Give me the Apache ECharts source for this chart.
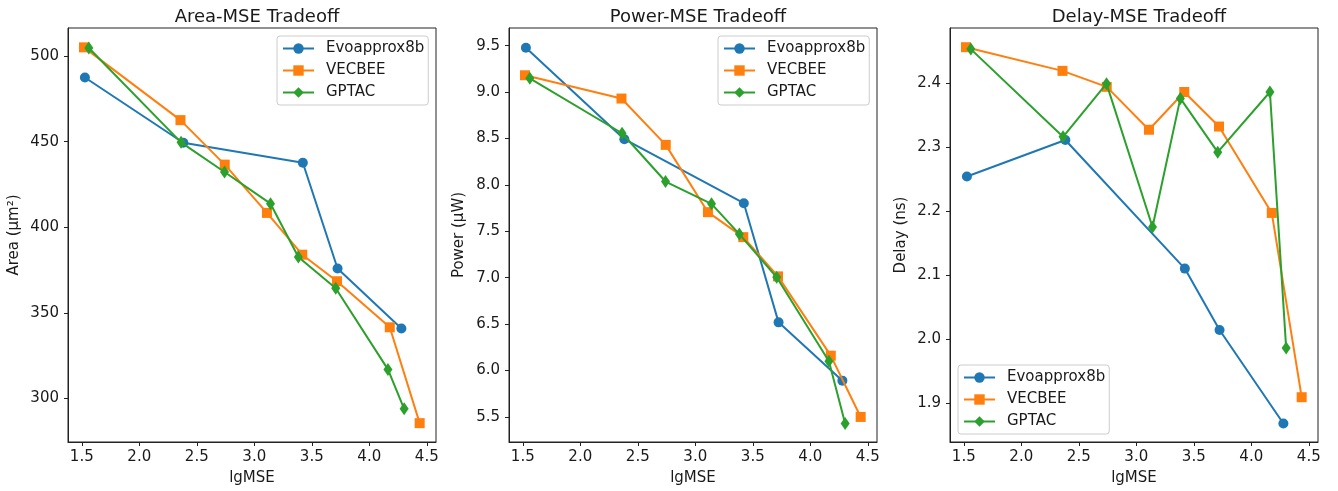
<!DOCTYPE html>
<html>
<head>
<meta charset="utf-8">
<title>MSE Tradeoff</title>
<script src="https://cdn.jsdelivr.net/npm/echarts@6/dist/echarts.min.js"></script>
<style>
  html, body { margin: 0; padding: 0; background: #fff; }
  #chart { width: 1338px; height: 491px; }
</style>
</head>
<body>
<div id="chart"></div>
<script>
// lgMSE of each design (x values)
let lgmseEvo = [1.527, 2.383, 3.422, 3.724, 4.279];
let lgmseVec = [1.519, 2.358, 2.743, 3.110, 3.417, 3.719, 4.178, 4.438];
let lgmseGp = [1.561, 2.363, 2.741, 3.141, 3.383, 3.708, 4.162, 4.303];

// Area (um^2)
let areaEvo = [487.5, 449.4, 437.7, 375.9, 340.9];
let areaVec = [505.1, 462.6, 436.6, 408.4, 384.0, 368.5, 341.6, 285.6];
let areaGp = [504.7, 449.6, 432.3, 413.8, 382.7, 364.4, 317.0, 294.0];

// Power (uW)
let powerEvo = [9.478, 8.492, 7.803, 6.519, 5.891];
let powerVec = [9.181, 8.930, 8.431, 7.706, 7.437, 7.014, 6.160, 5.500];
let powerGp = [9.148, 8.556, 8.036, 7.796, 7.470, 7.004, 6.099, 5.428];

// Delay (ns)
let delayEvo = [2.254, 2.311, 2.110, 2.014, 1.868];
let delayVec = [2.456, 2.419, 2.394, 2.327, 2.386, 2.332, 2.197, 1.909];
let delayGp = [2.453, 2.316, 2.399, 2.175, 2.376, 2.292, 2.386, 1.986];

// Tick labels
let xTicks = [1.5, 2.0, 2.5, 3.0, 3.5, 4.0, 4.5];
let areaTicks = [300, 350, 400, 450, 500];
let powerTicks = [5.5, 6.0, 6.5, 7.0, 7.5, 8.0, 8.5, 9.0, 9.5];
let delayTicks = [1.9, 2.0, 2.1, 2.2, 2.3, 2.4];

let names = ['Evoapprox8b', 'VECBEE', 'GPTAC'];
let titles = ['Area-MSE Tradeoff', 'Power-MSE Tradeoff', 'Delay-MSE Tradeoff'];
let yNames = ['Area (µm²)', 'Power (µW)', 'Delay (ns)'];

const FONT = 'DejaVu Sans';
const TXT = '#1a1a1a';
const FS = 15;
const colors = ['#1f77b4', '#ff7f0e', '#2ca02c'];
const diamond = 'path://M4,0L8,6L4,12L0,6Z';
const symbols = ['circle', 'rect', diamond];
const symbolSizes = [10, 10, [9, 13]];

const gridLefts = [68, 509, 950];
const gridW = 368;

const zip = (xs, ys) => xs.map((x, i) => [x, ys[i]]);

let panels = [
    [zip(lgmseEvo, areaEvo), zip(lgmseVec, areaVec), zip(lgmseGp, areaGp)],
    [zip(lgmseEvo, powerEvo), zip(lgmseVec, powerVec), zip(lgmseGp, powerGp)],
    [zip(lgmseEvo, delayEvo), zip(lgmseVec, delayVec), zip(lgmseGp, delayGp)]
];

let yRanges = [[274.6, 516.4], [5.23, 9.69], [1.839, 2.486]];
let yTickSets = [areaTicks, powerTicks, delayTicks];
let yFmt = [v => v.toFixed(0), v => v.toFixed(1), v => v.toFixed(1)];
let yNameGaps = [46, 42, 41];

let grids = [], xAxes = [], yAxes = [], series = [], titleOpts = [];

for (let p = 0; p < 3; p++) {
    grids.push({
        left: gridLefts[p], top: 28, width: gridW, height: 414,
        show: true, borderColor: '#222', borderWidth: 1,
        backgroundColor: 'transparent'
    });
    titleOpts.push({
        text: titles[p],
        left: gridLefts[p] + gridW / 2,
        top: 3,
        textAlign: 'center',
        textStyle: { fontFamily: FONT, fontSize: 18, fontWeight: 'normal', color: TXT }
    });
    xAxes.push({
        type: 'value', gridIndex: p,
        min: 1.38, max: 4.58,
        name: 'lgMSE', nameLocation: 'middle', nameGap: 29,
        nameTextStyle: { fontFamily: FONT, fontSize: FS, color: TXT },
        axisLine: { onZero: false, lineStyle: { color: '#222', width: 1 } },
        axisTick: { show: true, length: 4, customValues: xTicks, lineStyle: { color: '#222' } },
        axisLabel: {
            customValues: xTicks, margin: 8,
            fontFamily: FONT, fontSize: FS, color: TXT,
            formatter: v => Number(v).toFixed(1)
        },
        splitLine: { show: false }
    });
    yAxes.push({
        type: 'value', gridIndex: p,
        min: yRanges[p][0], max: yRanges[p][1],
        name: yNames[p], nameLocation: 'middle', nameGap: yNameGaps[p],
        nameTextStyle: { fontFamily: FONT, fontSize: FS, color: TXT },
        axisLine: { show: true, onZero: false, lineStyle: { color: '#222', width: 1 } },
        axisTick: { show: true, length: 4, customValues: yTickSets[p], lineStyle: { color: '#222' } },
        axisLabel: {
            customValues: yTickSets[p], margin: 9,
            fontFamily: FONT, fontSize: FS, color: TXT,
            formatter: v => yFmt[p](Number(v))
        },
        splitLine: { show: false }
    });
    for (let s = 0; s < 3; s++) {
        series.push({
            type: 'line',
            name: names[s],
            xAxisIndex: p, yAxisIndex: p,
            data: panels[p][s],
            symbol: symbols[s],
            symbolSize: symbolSizes[s],
            symbolKeepAspect: false,
            showSymbol: true,
            color: colors[s],
            lineStyle: { color: colors[s], width: 2 },
            itemStyle: { color: colors[s], borderWidth: 0 },
            emphasis: { disabled: true },
            z: 2 + s
        });
    }
}

// Legend boxes: top-right in first two panels, bottom-left in the third
const legendPos = [[277, 36], [718, 36], [958, 365]];
let legends = legendPos.map(pos => ({
    data: names,
    orient: 'vertical',
    left: pos[0], top: pos[1],
    itemWidth: 31, itemHeight: 13, itemGap: 7,
    padding: [5, 4, 5, 5],
    backgroundColor: 'rgba(255,255,255,0.8)',
    borderColor: '#cccccc', borderWidth: 1, borderRadius: 3,
    symbolKeepAspect: true,
    selectedMode: false,
    textStyle: { fontFamily: FONT, fontSize: FS, color: TXT, lineHeight: 15, padding: [0, 0, 0, 7] }
}));

let chart = echarts.init(document.getElementById('chart'), null, { renderer: 'canvas' });
chart.setOption({
    animation: false,
    backgroundColor: '#fff',
    title: titleOpts,
    legend: legends,
    grid: grids,
    xAxis: xAxes,
    yAxis: yAxes,
    series: series
});
</script>
</body>
</html>
